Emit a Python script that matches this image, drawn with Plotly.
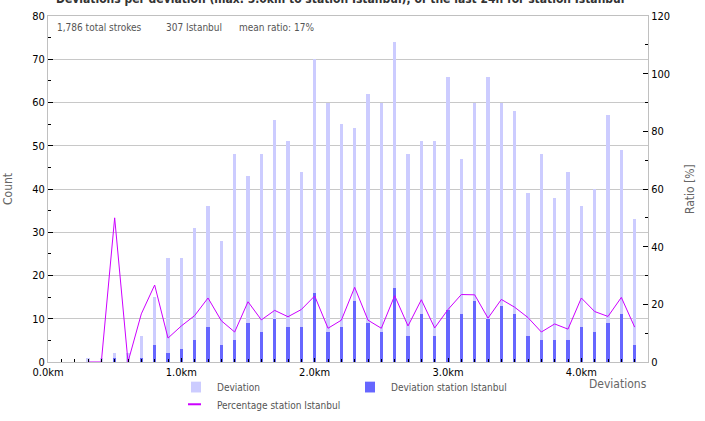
import plotly.graph_objects as go

# Distance bins (km)
bins_km = [round(0.1 * i, 1) for i in range(1, 45)]

# Total deviations per bin
deviation = [0, 0, 1, 1, 2, 2, 6, 15, 24, 24, 31, 36, 28, 48, 43, 48, 56, 51, 44, 70,
             60, 55, 54, 62, 60, 74, 48, 51, 51, 66, 47, 60, 66, 60, 58, 39, 48, 38, 44, 36,
             40, 57, 49, 33]

# Deviations of station Istanbul per bin
deviation_ist = [0, 0, 0, 0, 1, 0, 1, 4, 2, 3, 5, 8, 4, 5, 9, 7, 10, 8, 8, 16,
                 7, 8, 14, 9, 7, 17, 6, 11, 6, 12, 11, 14, 10, 13, 11, 6, 5, 5, 5, 8,
                 7, 9, 11, 4]

# Percentage station Istanbul per bin
percentage_ist = [None, None, 0, 0, 50, 0, 16.7, 26.7, 8.3, 12.5, 16.1, 22.2, 14.3, 10.4, 20.9,
                  14.6, 17.9, 15.7, 18.2, 22.9, 11.7, 14.5, 25.9, 14.5, 11.7, 23.0, 12.5, 21.6,
                  11.8, 18.2, 23.4, 23.3, 15.2, 21.7, 19.0, 15.4, 10.4, 13.2, 11.4, 22.2, 17.5,
                  15.8, 22.4, 12.1]

x_tickvals = [0, 1, 2, 3, 4]
x_ticktext = ["0.0km", "1.0km", "2.0km", "3.0km", "4.0km"]

title_text = "Deviations per deviation (max. 5.0km to station Istanbul), of the last 24h for station Istanbul"
info_texts = ["1,786 total strokes", "307 Istanbul", "mean ratio: 17%"]

C_LIGHT = "#ccccff"
C_DARK = "#6666ff"
C_LINE = "#cc00ff"
FONT = "DejaVu Sans Condensed, Liberation Sans Narrow, DejaVu Sans, sans-serif"

W, H = 705, 421
L, R, T, B = 48, 57, 10, 59
PW, PH = W - L - R, H - T - B

def px_x(px):
    return (px - L) / PW

def px_y(py):
    return 1 - (py - T) / PH

fig = go.Figure()
fig.add_trace(go.Bar(x=bins_km, y=deviation, width=0.025, marker=dict(color=C_LIGHT, line_width=0),
                     name="Deviation", showlegend=False))
fig.add_trace(go.Bar(x=bins_km, y=deviation_ist, width=0.025, marker=dict(color=C_DARK, line_width=0),
                     name="Deviation station Istanbul", showlegend=False))
fig.add_trace(go.Scatter(x=bins_km, y=percentage_ist, yaxis="y2", mode="lines",
                         line=dict(color=C_LINE, width=1), name="Percentage station Istanbul",
                         showlegend=False, connectgaps=False))

tickfont = dict(family=FONT, size=11, color="#000000")

fig.update_layout(
    width=W, height=H,
    margin=dict(l=L, r=R, t=T, b=B, pad=0),
    paper_bgcolor="white", plot_bgcolor="white",
    barmode="overlay", bargap=0,
    showlegend=False,
    xaxis=dict(range=[0, 4.5], tickvals=x_tickvals, ticktext=x_ticktext, ticks="inside",
               ticklen=4, tickcolor="#000000", tickwidth=1, showgrid=False, zeroline=False,
               showline=True, linecolor="#c0c0c0", linewidth=1, mirror=True,
               tickfont=tickfont,
               minor=dict(tick0=0, dtick=0.1, ticks="inside", ticklen=3, tickcolor="#000000",
                          showgrid=False)),
    yaxis=dict(range=[0, 80], dtick=10, ticks="inside", ticklen=5, tickcolor="#000000",
               showgrid=True, gridcolor="#c8c8c8", gridwidth=1, zeroline=False,
               showline=True, linecolor="#c0c0c0", linewidth=1, tickfont=tickfont,
               minor=dict(dtick=5, ticks="inside", ticklen=3, tickcolor="#000000", showgrid=False)),
    yaxis2=dict(range=[0, 120], dtick=20, overlaying="y", side="right", ticks="inside", ticklen=5,
                tickcolor="#000000", showgrid=False, zeroline=False, showline=True,
                linecolor="#c0c0c0", linewidth=1, tickfont=tickfont,
                minor=dict(dtick=10, ticks="inside", ticklen=3, tickcolor="#000000")),
)

ann = []
# title (mostly cut off at top, as in the original)
ann.append(dict(text="<b>" + title_text + "</b>", x=px_x(340), y=px_y(-7), xref="paper", yref="paper",
                xanchor="center", yanchor="middle", showarrow=False,
                font=dict(family=FONT, size=12, color="#333333")))
# info line
for t, xp in zip(info_texts, [55, 164, 237]):
    ann.append(dict(text=t, x=px_x(xp), y=px_y(22), xref="paper", yref="paper",
                    xanchor="left", yanchor="middle", showarrow=False,
                    font=dict(family=FONT, size=10, color="#555555")))
# axis titles
ann.append(dict(text="Count", x=px_x(8), y=px_y(186), xref="paper", yref="paper", textangle=-90,
                xanchor="center", yanchor="middle", showarrow=False,
                font=dict(family=FONT, size=12, color="#666666")))
ann.append(dict(text="Ratio [%]", x=px_x(690), y=px_y(186), xref="paper", yref="paper", textangle=-90,
                xanchor="center", yanchor="middle", showarrow=False,
                font=dict(family=FONT, size=12, color="#666666")))
ann.append(dict(text="Deviations", x=px_x(649), y=px_y(384), xref="paper", yref="paper",
                xanchor="right", yanchor="middle", showarrow=False,
                font=dict(family=FONT, size=12, color="#666666")))
# legend
shapes = []
shapes.append(dict(type="rect", xref="paper", yref="paper", x0=px_x(191), x1=px_x(201),
                   y0=px_y(382), y1=px_y(393), fillcolor=C_LIGHT, line_width=0))
shapes.append(dict(type="rect", xref="paper", yref="paper", x0=px_x(365), x1=px_x(375),
                   y0=px_y(382), y1=px_y(393), fillcolor=C_DARK, line_width=0))
shapes.append(dict(type="line", xref="paper", yref="paper", x0=px_x(188), x1=px_x(201),
                   y0=px_y(405), y1=px_y(405), line=dict(color=C_LINE, width=2)))
for t, xp, yp in [("Deviation", 215, 388), ("Deviation station Istanbul", 389, 388),
                  ("Percentage station Istanbul", 215, 406)]:
    ann.append(dict(text=t, x=px_x(xp), y=px_y(yp), xref="paper", yref="paper",
                    xanchor="left", yanchor="middle", showarrow=False,
                    font=dict(family=FONT, size=10, color="#555555")))

fig.update_layout(annotations=ann, shapes=shapes)
fig.write_html("out.html")
